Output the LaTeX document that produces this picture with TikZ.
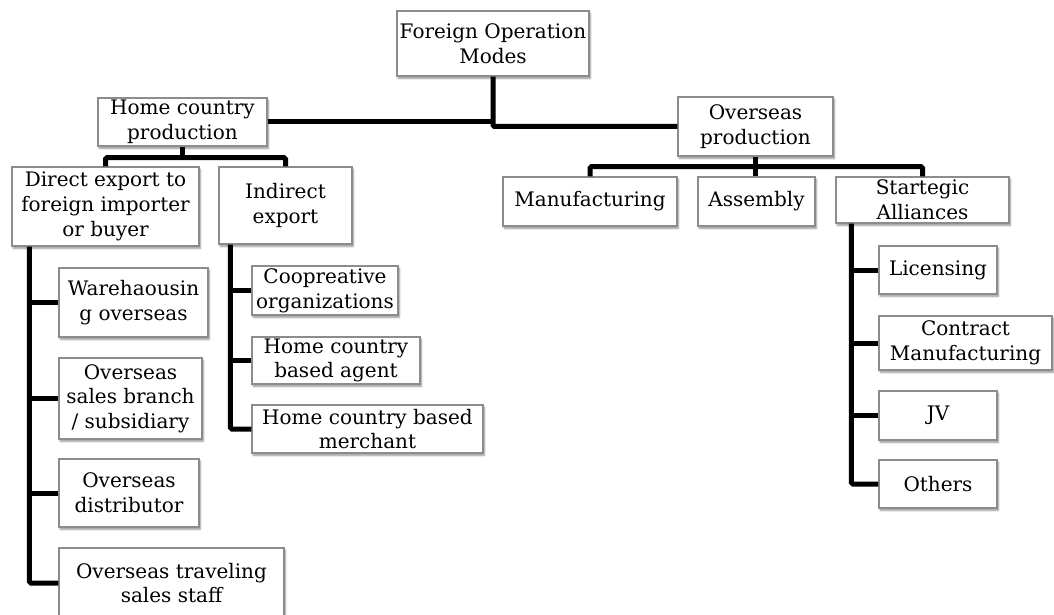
\documentclass[tikz,border=0pt]{standalone}
\usepackage{fontspec}
\setmainfont{DejaVu Serif}
\usetikzlibrary{shadows.blur}
\definecolor{boxline}{HTML}{8C8C8C}
\tikzset{
  x=1pt, y=-1pt,
  box/.style={draw=boxline, line width=1.1pt, fill=white, align=center,
    inner sep=0pt, font=\fontsize{20}{24.7}\selectfont,
    blur shadow={shadow xshift=1.2pt, shadow yshift=-2.2pt,
      shadow blur radius=2pt, shadow blur steps=6, shadow opacity=45}},
  link/.style={line width=5pt, black, rounded corners=1.5pt}
}
\begin{document}
\begin{tikzpicture}
\useasboundingbox (0,0) rectangle (1054,615);

% top level
\node[box, minimum width=192pt, minimum height=65pt] (root) at (493,43.5) {Foreign Operation\\Modes};
\node[box, minimum width=169pt, minimum height=48pt] (home) at (182.5,122) {Home country\\production};
\node[box, minimum width=155pt, minimum height=59pt] (over) at (755.5,126.5) {Overseas\\production};

% home country production branch
\node[box, minimum width=187pt, minimum height=79pt] (direct) at (105.5,206.5) {Direct export to\\foreign importer\\or buyer};
\node[box, minimum width=133pt, minimum height=77pt] (indirect) at (285.5,205.5) {Indirect\\export};

\node[box, minimum width=149pt, minimum height=69pt] (wareh) at (133.5,302.5) {Warehaousin\\g overseas};
\node[box, minimum width=143pt, minimum height=81pt] (branch) at (130.5,398.5) {Overseas\\sales branch\\/ subsidiary};
\node[box, minimum width=140pt, minimum height=68pt] (distrib) at (129,493) {Overseas\\distributor};
\node[box, minimum width=225pt, minimum height=70pt] (travel) at (171.5,583) {Overseas traveling\\sales staff};

\node[box, minimum width=146pt, minimum height=49pt] (coop) at (325,290.5) {Coopreative\\organizations};
\node[box, minimum width=168pt, minimum height=47pt] (agent) at (336,360.5) {Home country\\based agent};
\node[box, minimum width=231pt, minimum height=48pt] (merchant) at (367.5,429) {Home country based\\merchant};

% overseas production branch
\node[box, minimum width=174pt, minimum height=49pt] (manuf) at (590,201.5) {Manufacturing};
\node[box, minimum width=117pt, minimum height=49pt] (assem) at (756.5,201.5) {Assembly};
\node[box, minimum width=173pt, minimum height=46pt] (strat) at (922.5,200) {Startegic\\Alliances};

\node[box, minimum width=118pt, minimum height=48pt] (lic) at (938,270) {Licensing};
\node[box, minimum width=173pt, minimum height=54pt] (contract) at (965.5,343) {Contract\\Manufacturing};
\node[box, minimum width=118pt, minimum height=49pt] (jv) at (938,415.5) {JV};
\node[box, minimum width=118pt, minimum height=48pt] (others) at (938,484) {Others};

% trunk and bus points
\coordinate (hbus) at ([yshift=-11pt]home.south);
\coordinate (obus) at ([yshift=-10pt]over.south);
\coordinate (dtrunk) at ([xshift=18pt]direct.south west);
\coordinate (itrunk) at ([xshift=12pt]indirect.south west);
\coordinate (strunk) at ([xshift=16pt]strat.south west);

% connectors
\draw[link] (home.east) -- (home.east -| root.south);
\draw[link] (root.south) |- (over.west);

\draw[link] (home.south) -- (hbus);
\draw[link] (direct.north) |- (hbus) -| (indirect.north);

\draw[link] (over.south) -- (over.south |- assem.north);
\draw[link] (manuf.north) |- (obus) -| (strat.north);

\draw[link] (dtrunk) |- (travel.west);
\draw[link] (wareh.west) -- (wareh.west -| dtrunk);
\draw[link] (branch.west) -- (branch.west -| dtrunk);
\draw[link] (distrib.west) -- (distrib.west -| dtrunk);

\draw[link] (itrunk) |- (merchant.west);
\draw[link] (coop.west) -- (coop.west -| itrunk);
\draw[link] (agent.west) -- (agent.west -| itrunk);

\draw[link] (strunk) |- (others.west);
\draw[link] (lic.west) -- (lic.west -| strunk);
\draw[link] (contract.west) -- (contract.west -| strunk);
\draw[link] (jv.west) -- (jv.west -| strunk);
\end{tikzpicture}
\end{document}
